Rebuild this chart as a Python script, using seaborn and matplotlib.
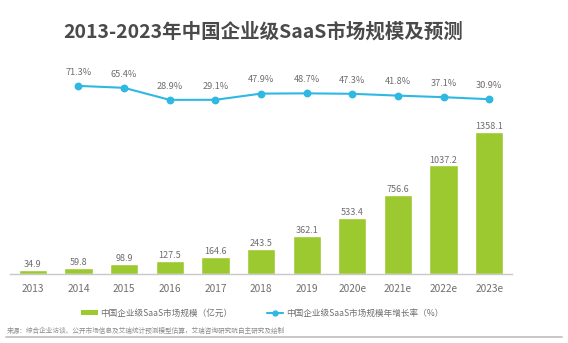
import matplotlib
matplotlib.use("Agg")
import matplotlib.pyplot as plt
from matplotlib.patches import Patch
from matplotlib.lines import Line2D
import seaborn as sns
import pandas as pd

# Market size (100M CNY) and year-over-year growth (%)
years = ["2013", "2014", "2015", "2016", "2017", "2018", "2019",
         "2020e", "2021e", "2022e", "2023e"]
market_size = [34.9, 59.8, 98.9, 127.5, 164.6, 243.5, 362.1,
               533.4, 756.6, 1037.2, 1358.1]
growth_years = ["2014", "2015", "2016", "2017", "2018", "2019",
                "2020e", "2021e", "2022e", "2023e"]
growth_rate = [71.3, 65.4, 28.9, 29.1, 47.9, 48.7, 47.3, 41.8, 37.1, 30.9]

title = "2013-2023年中国企业级SaaS市场规模及预测"
bar_label = "中国企业级SaaS市场规模（亿元）"
line_label = "中国企业级SaaS市场规模年增长率（%）"
source = "来源：综合企业访谈、公开市场信息及艾瑞统计预测模型估算，艾瑞咨询研究院自主研究及绘制"

GREEN = "#9bc92f"
CYAN = "#2fb8e2"
DARK = "#4a4a4a"
GREY = "#6e6e6e"

sns.set_theme(style="white")
plt.rcParams["font.family"] = ["Noto Sans CJK SC", "DejaVu Sans"]

df_bar = pd.DataFrame({"year": years, "size": market_size})
df_line = pd.DataFrame({"year": growth_years, "rate": growth_rate})

fig = plt.figure(figsize=(5.68, 3.43), dpi=100)
ax = fig.add_axes([0.0176, 0.2012, 0.884, 0.595])

sns.barplot(data=df_bar, x="year", y="size", order=years, color=GREEN,
            saturation=1, width=0.62, ax=ax)
ax.set_ylim(0, 1950)

for i, v in enumerate(market_size):
    ax.text(i, v + 8, f"{v:.1f}", ha="center", va="bottom",
            fontsize=6.5, color=GREY)

ax2 = ax.twinx()
sns.pointplot(data=df_line, x="year", y="rate", order=years, color=CYAN,
              markers="o", markersize=4.5, linewidth=1.5, ax=ax2)
ax2.set_ylim(-498.5, 119.7)
for yr, r in zip(growth_years, growth_rate):
    i = years.index(yr)
    ax2.text(i, r + 28, f"{r:.1f}%", ha="center", va="bottom",
             fontsize=6.6, color=GREY)

for a in (ax, ax2):
    a.set_xlim(-0.5, len(years) - 0.5)
    a.set_xlabel("")
    a.set_ylabel("")
    a.set_yticks([])
    for s in a.spines.values():
        s.set_visible(False)

ax.spines["bottom"].set_visible(True)
ax.spines["bottom"].set_color("#c8c8c8")
ax.spines["bottom"].set_linewidth(1.0)
ax.tick_params(axis="x", length=0, pad=7, labelsize=7.3, labelcolor=GREY)

fig.text(0.463, 0.907, title, ha="center", va="center", fontsize=14,
         fontweight="bold", color=DARK)

handles = [Patch(facecolor=GREEN, edgecolor="none"),
           Line2D([], [], color=CYAN, marker="o", markersize=3.5, linewidth=1.5)]
fig.legend(handles, [bar_label, line_label], loc="center",
           bbox_to_anchor=(0.462, 1 - 313 / 343), ncol=2, frameon=False,
           fontsize=6.2, labelcolor=GREY, handlelength=1.9, handleheight=0.6,
           columnspacing=4.0, handletextpad=0.3)

fig.text(0.012, 1 - 331 / 343, source, ha="left", va="center",
         fontsize=4.8, color="#8a8a8a")
fig.add_artist(Line2D([0.01, 0.99], [1 - 337 / 343, 1 - 337 / 343],
                      color="#bdbdbd", linewidth=1.2,
                      transform=fig.transFigure))

fig.savefig("out.png", dpi=100, facecolor="white")
